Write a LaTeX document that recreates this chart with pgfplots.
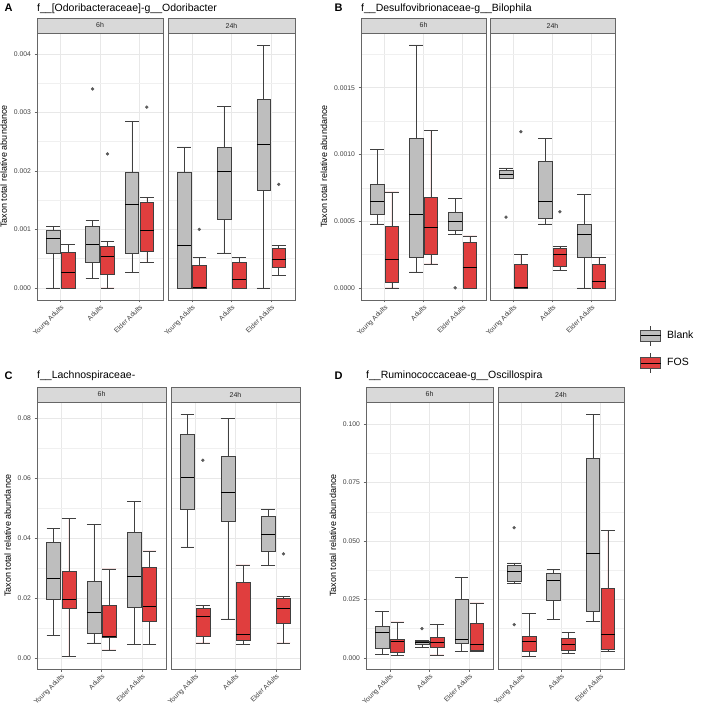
\documentclass[border=0pt]{standalone}
\usepackage{fontspec}
\setmainfont{Liberation Sans}
\usepackage{pgfplots}
\pgfplotsset{compat=1.18}
\usepgfplotslibrary{statistics}

\definecolor{boxgray}{RGB}{190,190,190}
\definecolor{boxred}{RGB}{224,62,62}
\definecolor{stripgray}{RGB}{217,217,217}

\pgfplotsset{
  facet/.style={
    scale only axis, height=267pt, anchor=south west,
    xmin=0.4, xmax=3.6,
    xtick={1,2,3}, xticklabels={Young Adults,Adults,Elder Adults},
    x tick label style={rotate=45, anchor=north east, font=\fontsize{6.8}{8}\selectfont, text=black!75, inner sep=1pt},
    y tick label style={font=\fontsize{6.8}{8}\selectfont, text=black!75},
    /pgf/number format/assume math mode=true,
    scaled y ticks=false,
    yticklabel style={/pgf/number format/fixed, /pgf/number format/fixed zerofill},
    xmajorgrids, ymajorgrids, yminorgrids,
    major grid style={draw=black!9, line width=0.5pt},
    minor grid style={draw=black!6, line width=0.35pt},
    axis line style={draw=black!60, line width=0.5pt},
    tick style={draw=black!60, line width=0.4pt},
    tick align=outside, major tick length=2.5pt, minor tick length=0pt,
    xtick pos=bottom, ytick pos=left,
    ylabel style={font=\fontsize{9}{10}\selectfont},
    boxplot/draw direction=y,
  },
  right facet/.style={yticklabels={}, ytick style={draw=none}},
  % panels A and B: values given in units of 0.001
  pA/.style={ymin=-0.207, ymax=4.357, ytick={0,1,2,3,4}, yticklabels={0.000,0.001,0.002,0.003,0.004}, minor ytick={0.5,1.5,2.5,3.5}},
  pB/.style={ymin=-0.091, ymax=1.91, ytick={0,0.5,1,1.5}, yticklabels={0.0000,0.0005,0.0010,0.0015}, minor ytick={0.25,0.75,1.25,1.75}},
  pC/.style={ymin=-0.0037, ymax=0.0853, ytick={0,0.02,0.04,0.06,0.08}, minor ytick={0.01,0.03,0.05,0.07}, yticklabel style={/pgf/number format/precision=2}},
  pD/.style={ymin=-0.0048, ymax=0.1095, ytick={0,0.025,0.05,0.075,0.1}, minor ytick={0.0125,0.0375,0.0625,0.0875}, yticklabel style={/pgf/number format/precision=3}},
  blankbox/.style={draw=black!75, fill=boxgray, line width=0.5pt, mark=*, mark size=1.4pt, mark options={draw=black!65, fill=black!65},
    boxplot/every median/.style={line width=1pt, draw=black}},
  fosbox/.style={draw=black!75, fill=boxred, line width=0.5pt, mark=*, mark size=1.4pt, mark options={draw=black!65, fill=black!65},
    boxplot/every median/.style={line width=1pt, draw=black}},
}

% #1 style, #2 position, #3 lower whisker, #4 lower quartile, #5 median, #6 upper quartile, #7 upper whisker, #8 outliers
\newcommand{\bp}[8]{\addplot[#1, boxplot prepared={draw direction=y, draw position=#2, lower whisker=#3, lower quartile=#4, median=#5, upper quartile=#6, upper whisker=#7, box extend=0.345, whisker extend=0.345}] coordinates {#8};}

\begin{document}
\begin{tikzpicture}
\useasboundingbox (0,0) rectangle (708pt,709pt);

% ---------------- Panel A (values x 0.001) ----------------
\node[anchor=west, font=\fontsize{11}{12}\selectfont\bfseries] at (1pt,701pt) {A};
\node[anchor=west, font=\fontsize{10.5}{12}\selectfont, inner sep=0pt] at (37pt,700.5pt) {f\_\_[Odoribacteraceae]-g\_\_Odoribacter};
\begin{axis}[facet, pA, at={(37pt,409pt)}, width=126pt, ylabel={Taxon total relative abundance}]
\bp{blankbox}{0.81}{0}{0.59}{0.84}{0.99}{1.05}{}
\bp{fosbox}{1.19}{0}{0}{0.27}{0.61}{0.75}{}
\bp{blankbox}{1.81}{0.16}{0.44}{0.74}{1.05}{1.16}{(0,3.4)}
\bp{fosbox}{2.19}{0}{0.23}{0.54}{0.72}{0.79}{(0,2.29)}
\bp{blankbox}{2.81}{0.27}{0.6}{1.43}{1.97}{2.85}{}
\bp{fosbox}{3.19}{0.43}{0.63}{0.98}{1.47}{1.55}{(0,3.09)}
\end{axis}
\begin{axis}[facet, pA, right facet, at={(168pt,409pt)}, width=127pt]
\bp{blankbox}{0.81}{0}{0}{0.73}{1.98}{2.41}{}
\bp{fosbox}{1.19}{0}{0}{0}{0.39}{0.52}{(0,1.0)}
\bp{blankbox}{1.81}{0.6}{1.17}{1.99}{2.4}{3.1}{}
\bp{fosbox}{2.19}{0}{0}{0.14}{0.43}{0.52}{}
\bp{blankbox}{2.81}{0}{1.67}{2.45}{3.22}{4.15}{}
\bp{fosbox}{3.19}{0.21}{0.35}{0.48}{0.67}{0.73}{(0,1.77)}
\end{axis}
\draw[fill=stripgray, draw=black!60, line width=0.5pt] (37pt,676pt) rectangle (163pt,691pt);
\node[font=\fontsize{7}{8}\selectfont, text=black!85] at (100pt,683.5pt) {6h};
\draw[fill=stripgray, draw=black!60, line width=0.5pt] (168pt,676pt) rectangle (295pt,691pt);
\node[font=\fontsize{7}{8}\selectfont, text=black!85] at (231.5pt,683.5pt) {24h};

% ---------------- Panel B (values x 0.001) ----------------
\node[anchor=west, font=\fontsize{11}{12}\selectfont\bfseries] at (331pt,701pt) {B};
\node[anchor=west, font=\fontsize{10.5}{12}\selectfont, inner sep=0pt] at (361pt,700.5pt) {f\_\_Desulfovibrionaceae-g\_\_Bilophila};
\begin{axis}[facet, pB, at={(361pt,409pt)}, width=125pt, ylabel={Taxon total relative abundance}]
\bp{blankbox}{0.81}{0.48}{0.55}{0.65}{0.78}{1.04}{}
\bp{fosbox}{1.19}{0}{0.04}{0.21}{0.46}{0.72}{}
\bp{blankbox}{1.81}{0.12}{0.23}{0.55}{1.12}{1.82}{}
\bp{fosbox}{2.19}{0.18}{0.25}{0.45}{0.68}{1.18}{}
\bp{blankbox}{2.81}{0.4}{0.43}{0.5}{0.57}{0.67}{(0,0)}
\bp{fosbox}{3.19}{0}{0}{0.15}{0.34}{0.39}{}
\end{axis}
\begin{axis}[facet, pB, right facet, at={(490pt,409pt)}, width=125pt,
  legend style={at={(1.2,-0.094)}, anchor=north west, draw=none, fill=none, font=\fontsize{10.5}{12}\selectfont, row sep=7pt, inner sep=0pt, /tikz/every odd column/.style={column sep=4pt}},
  legend cell align=left]
\addlegendimage{legend image code/.code={\draw[draw=black!70, fill=boxgray, line width=0.5pt] (0pt,-5.5pt) rectangle (20pt,5.5pt); \draw[black, line width=1pt] (0pt,0pt)--(20pt,0pt); \draw[black!75, line width=0.5pt] (10pt,5.5pt)--(10pt,10pt) (10pt,-5.5pt)--(10pt,-10pt);}}
\addlegendentry{Blank}
\addlegendimage{legend image code/.code={\draw[draw=black!70, fill=boxred, line width=0.5pt] (0pt,-5.5pt) rectangle (20pt,5.5pt); \draw[black, line width=1pt] (0pt,0pt)--(20pt,0pt); \draw[black!75, line width=0.5pt] (10pt,5.5pt)--(10pt,10pt) (10pt,-5.5pt)--(10pt,-10pt);}}
\addlegendentry{FOS}
\bp{blankbox}{0.81}{0.82}{0.82}{0.85}{0.88}{0.9}{(0,0.53)}
\bp{fosbox}{1.19}{0}{0}{0}{0.18}{0.25}{(0,1.17)}
\bp{blankbox}{1.81}{0.48}{0.52}{0.65}{0.95}{1.12}{}
\bp{fosbox}{2.19}{0.13}{0.16}{0.25}{0.3}{0.31}{(0,0.57)}
\bp{blankbox}{2.81}{0}{0.23}{0.4}{0.48}{0.7}{}
\bp{fosbox}{3.19}{0}{0}{0.05}{0.18}{0.23}{}
\end{axis}
\draw[fill=stripgray, draw=black!60, line width=0.5pt] (361pt,676pt) rectangle (486pt,691pt);
\node[font=\fontsize{7}{8}\selectfont, text=black!85] at (423.5pt,683.5pt) {6h};
\draw[fill=stripgray, draw=black!60, line width=0.5pt] (490pt,676pt) rectangle (615pt,691pt);
\node[font=\fontsize{7}{8}\selectfont, text=black!85] at (552.5pt,683.5pt) {24h};

% ---------------- Panel C ----------------
\node[anchor=west, font=\fontsize{11}{12}\selectfont\bfseries] at (1pt,333pt) {C};
\node[anchor=west, font=\fontsize{10.5}{12}\selectfont, inner sep=0pt] at (37pt,333pt) {f\_\_Lachnospiraceae-};
\begin{axis}[facet, pC, at={(37pt,40pt)}, width=129pt, ylabel={Taxon total relative abundance}]
\bp{blankbox}{0.81}{0.0074}{0.0196}{0.0265}{0.0384}{0.0431}{}
\bp{fosbox}{1.19}{0.0004}{0.0166}{0.0196}{0.0288}{0.0464}{}
\bp{blankbox}{1.81}{0.005}{0.0081}{0.0151}{0.0256}{0.0444}{}
\bp{fosbox}{2.19}{0.0027}{0.0069}{0.0072}{0.0176}{0.0297}{}
\bp{blankbox}{2.81}{0.0044}{0.0168}{0.027}{0.0418}{0.0522}{}
\bp{fosbox}{3.19}{0.0046}{0.0123}{0.0173}{0.0302}{0.0357}{}
\end{axis}
\begin{axis}[facet, pC, right facet, at={(171pt,40pt)}, width=129pt]
\bp{blankbox}{0.81}{0.037}{0.0497}{0.0601}{0.0747}{0.0813}{}
\bp{fosbox}{1.19}{0.005}{0.0073}{0.0138}{0.0166}{0.0174}{(0,0.0659)}
\bp{blankbox}{1.81}{0.013}{0.0456}{0.0552}{0.0673}{0.0798}{}
\bp{fosbox}{2.19}{0.0046}{0.006}{0.0079}{0.0251}{0.031}{}
\bp{blankbox}{2.81}{0.0309}{0.0355}{0.0412}{0.0472}{0.0497}{}
\bp{fosbox}{3.19}{0.005}{0.0114}{0.0166}{0.0199}{0.0204}{(0,0.0347)}
\end{axis}
\draw[fill=stripgray, draw=black!60, line width=0.5pt] (37pt,307pt) rectangle (166pt,322pt);
\node[font=\fontsize{7}{8}\selectfont, text=black!85] at (101.5pt,314.5pt) {6h};
\draw[fill=stripgray, draw=black!60, line width=0.5pt] (171pt,307pt) rectangle (300pt,322pt);
\node[font=\fontsize{7}{8}\selectfont, text=black!85] at (235.5pt,314.5pt) {24h};

% ---------------- Panel D ----------------
\node[anchor=west, font=\fontsize{11}{12}\selectfont\bfseries] at (331pt,333pt) {D};
\node[anchor=west, font=\fontsize{10.5}{12}\selectfont, inner sep=0pt] at (366pt,333pt) {f\_\_Ruminococcaceae-g\_\_Oscillospira};
\begin{axis}[facet, pD, at={(366pt,40pt)}, width=127pt, ylabel={Taxon total relative abundance}]
\bp{blankbox}{0.81}{0.0016}{0.0041}{0.0107}{0.0135}{0.0198}{}
\bp{fosbox}{1.19}{0.0009}{0.0024}{0.0068}{0.008}{0.0154}{}
\bp{blankbox}{1.81}{0.0045}{0.0058}{0.0067}{0.0072}{0.0073}{(0,0.0125)}
\bp{fosbox}{2.19}{0.0012}{0.0046}{0.0066}{0.0087}{0.0143}{}
\bp{blankbox}{2.81}{0.0027}{0.0063}{0.0077}{0.0249}{0.0343}{}
\bp{fosbox}{3.19}{0.0029}{0.0031}{0.0056}{0.0149}{0.0235}{}
\end{axis}
\begin{axis}[facet, pD, right facet, at={(498pt,40pt)}, width=126pt]
\bp{blankbox}{0.81}{0.032}{0.0329}{0.0371}{0.0398}{0.0406}{(0,0.0557) (0,0.0142)}
\bp{fosbox}{1.19}{0.0005}{0.0027}{0.0071}{0.0094}{0.0189}{}
\bp{blankbox}{1.81}{0.0166}{0.0245}{0.0331}{0.036}{0.038}{}
\bp{fosbox}{2.19}{0.002}{0.0031}{0.0057}{0.0082}{0.011}{}
\bp{blankbox}{2.81}{0.0155}{0.02}{0.0447}{0.0855}{0.1043}{}
\bp{fosbox}{3.19}{0.0028}{0.0037}{0.01}{0.0297}{0.0547}{}
\end{axis}
\draw[fill=stripgray, draw=black!60, line width=0.5pt] (366pt,307pt) rectangle (493pt,322pt);
\node[font=\fontsize{7}{8}\selectfont, text=black!85] at (429.5pt,314.5pt) {6h};
\draw[fill=stripgray, draw=black!60, line width=0.5pt] (498pt,307pt) rectangle (624pt,322pt);
\node[font=\fontsize{7}{8}\selectfont, text=black!85] at (561pt,314.5pt) {24h};
\end{tikzpicture}
\end{document}
